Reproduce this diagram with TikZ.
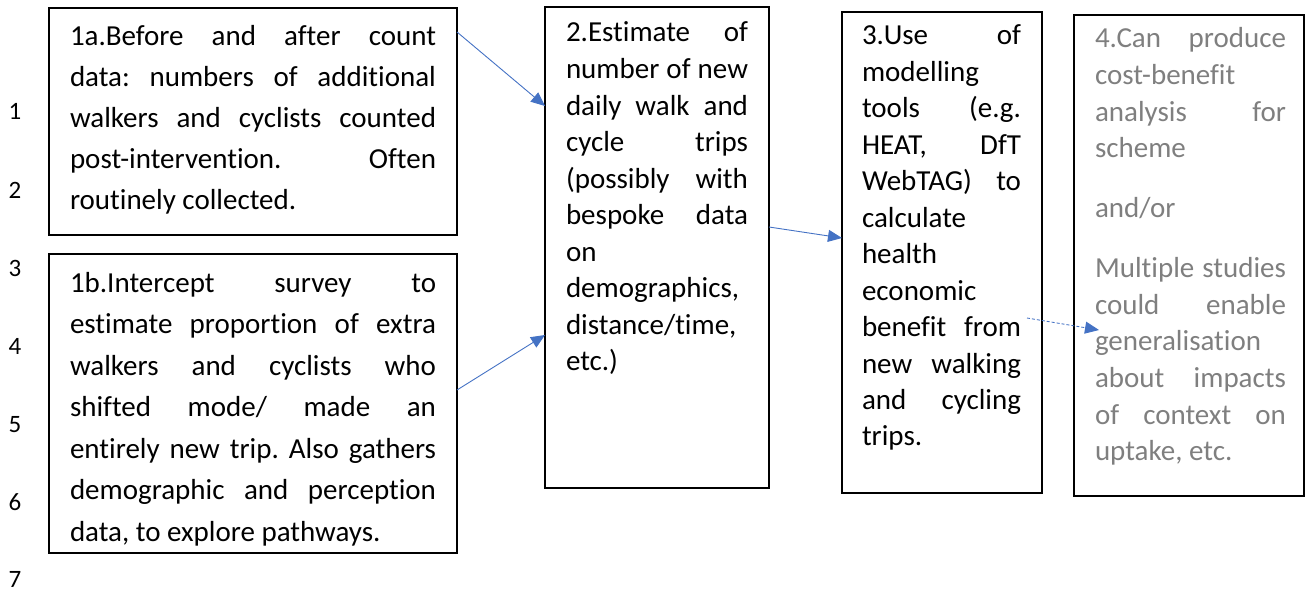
\documentclass[tikz,border=0pt]{standalone}
\usepackage{fontspec}
\setmainfont{Carlito}[Ligatures=NoCommon]
\usetikzlibrary{arrows.meta}
\definecolor{arrowblue}{HTML}{4472C4}
\definecolor{txtgray}{HTML}{7F7F7F}
\frenchspacing
\newcommand{\J}[1]{\makebox[\linewidth][s]{#1}\par}
\newcommand{\Lf}[1]{\leavevmode#1\par}
\tikzset{
  box/.style={draw=black, line width=1.4pt, anchor=north west, inner sep=0pt, outer sep=0pt},
  txt/.style={anchor=base west, inner sep=0pt, outer sep=0pt},
  lnum/.style={anchor=base, inner sep=0pt, font=\fontsize{25}{30}\selectfont},
  arr/.style={draw=arrowblue, line width=0.9pt, -{Triangle[length=14pt,width=12pt]}, arrowblue},
}
\begin{document}
\begin{tikzpicture}[x=1pt,y=-1pt]
\useasboundingbox (0,0) rectangle (1306,591);

% boxes
\node[box, minimum width=408pt, minimum height=227pt] (b1a) at (49,8) {};
\node[box, minimum width=408pt, minimum height=299pt] (b1b) at (49,254) {};
\node[box, minimum width=224pt, minimum height=481pt] (b2) at (545,7) {};
\node[box, minimum width=200pt, minimum height=481pt] (b3) at (842,12) {};
\node[box, minimum width=230pt, minimum height=481pt] (b4) at (1074,15) {};

% texts
\node[txt] (t1a) at (70,46) {\parbox[t]{366pt}{\fontsize{29}{41}\selectfont
\J{1a.Before and after count}
\J{data: numbers of additional}
\J{walkers and cyclists counted}
\J{post-intervention. Often}
\Lf{routinely collected.}}};

\node[txt] (t1b) at (70,292) {\parbox[t]{366pt}{\fontsize{29}{41.5}\selectfont
\J{1b.Intercept survey to}
\J{estimate proportion of extra}
\J{walkers and cyclists who}
\J{shifted mode/ made an}
\J{entirely new trip. Also gathers}
\J{demographic and perception}
\Lf{data, to explore pathways.}}};

\node[txt] (t2) at (566,42) {\parbox[t]{182pt}{\fontsize{29}{36.55}\selectfont
\J{2.Estimate of}
\J{number of new}
\J{daily walk and}
\J{cycle trips}
\J{(possibly with}
\J{bespoke data}
\Lf{on}
\Lf{demographics,}
\Lf{distance/time,}
\Lf{etc.)}}};

\node[txt] (t3) at (862,45) {\parbox[t]{159pt}{\fontsize{29}{36.45}\selectfont
\J{3.Use of}
\Lf{modelling}
\J{tools (e.g.}
\J{HEAT, DfT}
\J{WebTAG) to}
\Lf{calculate}
\Lf{health}
\Lf{economic}
\J{benefit from}
\J{new walking}
\J{and cycling}
\Lf{trips.}}};

\node[txt, text=txtgray] (t4) at (1095,48) {\parbox[t]{191pt}{\fontsize{29}{36.6}\selectfont
\J{4.Can produce}
\Lf{cost-benefit}
\J{analysis for}
\Lf{scheme}
\vspace{23.4pt}
\Lf{and/or}
\vspace{23.4pt}
\J{Multiple studies}
\J{could enable}
\Lf{generalisation}
\J{about impacts}
\J{of context on}
\Lf{uptake, etc.}}};

% line numbers
\node[lnum] (n1) at (15,120) {1};
\node[lnum] (n2) at (15,198) {2};
\node[lnum] (n3) at (15,276) {3};
\node[lnum] (n4) at (15,354) {4};
\node[lnum] (n5) at (15,432) {5};
\node[lnum] (n6) at (15,510) {6};
\node[lnum] (n7) at (15,587) {7};

% connectors
\coordinate (a1s) at (457,32);
\coordinate (a1e) at (543,106);
\coordinate (a2s) at (457,390);
\coordinate (a2e) at (543,335);
\coordinate (a3s) at (769,227);
\coordinate (a3e) at (841,238);
\coordinate (a4s) at (1027,318);
\coordinate (a4e) at (1099,330);
\draw[arr] (b1a.east |- a1s) -- (b2.west |- a1e);
\draw[arr] (b1b.east |- a2s) -- (b2.west |- a2e);
\draw[arr] (b2.east |- a3s) -- (b3.west |- a3e);
\draw[arr, dash pattern=on 3pt off 2pt] (a4s) -- (a4e);
\end{tikzpicture}
\end{document}
